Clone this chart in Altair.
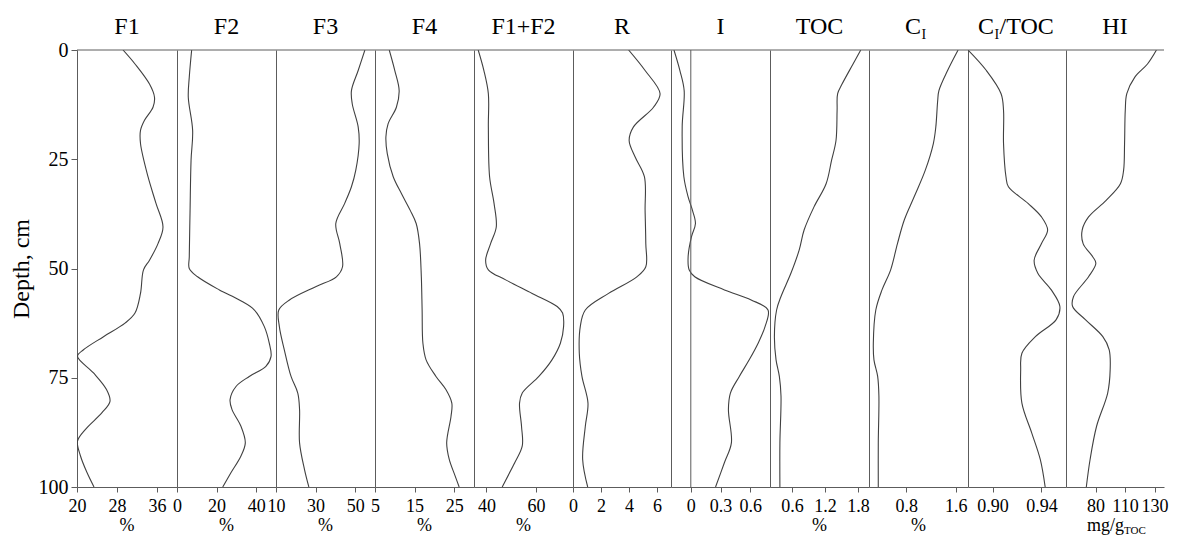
import altair as alt
import pandas as pd

# ---------------- data ----------------
names = ["F1", "F2", "F3", "F4", "F1+F2", "R", "I", "TOC", "C_I", "C_I/TOC", "HI"]

depth_F1 = [0, 3.2, 7.8, 10.8, 13.1, 16.1, 18.4, 21.4, 29.0, 35.1, 40.5, 44.3, 48.1, 50.3, 55.7,
            60.2, 62.5, 65.6, 68.6, 70.1, 73.9, 77.7, 80.4, 83.0, 86.8, 89.5, 92.9, 96.7, 100]
val_F1 = [29.2, 31.6, 34.5, 35.5, 35.2, 33.5, 32.7, 32.7, 34.2, 35.8, 37.2, 36.2, 34.5, 33.3, 32.7,
          31.6, 29.6, 25.3, 21.3, 20.1, 23.3, 25.9, 26.6, 25.0, 21.7, 20.1, 20.7, 22.0, 23.4]

depth_F2 = [0, 6.2, 10.8, 18.4, 25.2, 36.7, 47.3, 50.0, 51.9, 54.9, 57.2, 59.5, 63.3, 67.1, 70.1,
            72.4, 74.7, 77.0, 80.0, 82.3, 86.1, 89.9, 92.9, 96.7, 100]
val_F2 = [7.4, 6.2, 5.7, 7.9, 7.1, 6.6, 6.2, 6.2, 10.4, 21.4, 31.5, 39.1, 44.1, 46.6, 47.5,
          44.9, 36.5, 29.8, 26.8, 27.8, 32.3, 34.5, 32.3, 27.3, 23.1]

depth_F3 = [0, 4.7, 9.3, 12.3, 17.6, 21.4, 27.5, 31.3, 35.1, 39.7, 44.3, 49.6, 51.9, 54.1, 57.2,
            59.5, 63.3, 68.6, 74.7, 78.5, 82.3, 89.9, 96.0, 100]
val_F3 = [54.9, 51.5, 48.1, 48.5, 51.5, 52.0, 50.3, 48.1, 44.7, 40.2, 42.2, 43.6, 40.5, 30.3, 16.8,
          11.4, 11.7, 14.2, 17.6, 21.0, 21.9, 21.9, 24.4, 26.6]

depth_F4 = [0, 4.7, 9.3, 13.1, 16.9, 19.9, 23.7, 29.0, 32.9, 36.7, 39.7, 44.3, 51.9, 59.5, 67.1,
            70.9, 74.7, 77.7, 80.8, 83.8, 89.9, 93.7, 97.5, 100]
val_F4 = [8.6, 10.0, 11.1, 10.4, 8.3, 7.75, 8.1, 9.6, 11.7, 13.9, 15.4, 16.25, 16.7, 16.9, 17.1,
          17.9, 20.4, 22.9, 24.4, 24.2, 23.1, 23.75, 25.25, 26.25]

depth_F12 = [0, 4.7, 10.0, 17.6, 29.0, 35.1, 40.5, 44.3, 48.1, 50.3, 52.6, 55.7, 58.7, 60.2, 63.3,
             67.1, 70.9, 74.7, 78.5, 80.8, 86.1, 90.6, 94.4, 100]
val_F12 = [36.7, 39.0, 40.8, 40.8, 41.3, 43.1, 44.0, 41.7, 39.7, 40.8, 47.8, 58.5, 68.6, 70.8, 71.2,
           69.9, 66.5, 61.2, 54.5, 53.4, 54.2, 54.5, 51.5, 46.4]

depth_R = [0, 4.7, 10.0, 13.1, 17.6, 20.7, 24.5, 29.0, 36.7, 44.3, 49.6, 51.9, 55.7, 59.5, 63.3,
           69.4, 74.7, 80.8, 86.1, 93.7, 100]
val_R = [3.97, 5.15, 6.22, 5.75, 4.32, 4.01, 4.44, 5.1, 5.15, 5.2, 5.2, 4.56, 2.54, 0.88, 0.52,
         0.45, 0.64, 1.07, 0.88, 0.69, 1.05]

depth_I = [0, 4.7, 9.3, 17.6, 29.0, 33.6, 36.7, 39.7, 42.7, 47.3, 50.3, 51.9, 54.9, 57.2, 59.5,
           63.3, 67.1, 70.9, 74.7, 78.5, 82.3, 89.9, 94.4, 100]
val_I = [-0.17, -0.11, -0.067, -0.087, -0.07, -0.027, 0.017, 0.047, 0.007, -0.027, -0.017, 0.04,
         0.34, 0.61, 0.78, 0.75, 0.68, 0.59, 0.49, 0.40, 0.38, 0.41, 0.34, 0.25]

depth_TOC = [0, 3.2, 7.8, 10.0, 13.8, 20.7, 25.2, 30.6, 35.9, 41.2, 45.8, 51.1, 56.4, 59.5, 65.6,
             70.9, 74.7, 79.2, 89.9, 100]
val_TOC = [1.85, 1.71, 1.51, 1.43, 1.42, 1.40, 1.32, 1.22, 1.00, 0.82, 0.73, 0.58, 0.40, 0.32, 0.28,
           0.31, 0.37, 0.40, 0.38, 0.38]

depth_CI = [0, 4.7, 9.3, 11.6, 17.6, 21.4, 27.5, 33.6, 38.9, 44.3, 50.3, 54.9, 59.5, 67.1, 70.9,
            74.7, 79.2, 89.9, 100]
val_CI = [1.64, 1.47, 1.33, 1.31, 1.28, 1.24, 1.11, 0.93, 0.77, 0.66, 0.55, 0.41, 0.31, 0.27, 0.28,
          0.34, 0.36, 0.35, 0.35]

depth_CIT = [0, 4.7, 10.0, 13.8, 21.4, 29.0, 31.3, 35.1, 38.2, 41.2, 44.3, 48.1, 51.1, 54.9, 58.7,
             61.7, 65.6, 69.4, 73.2, 80.8, 87.6, 93.7, 100]
val_CIT = [0.880, 0.895, 0.907, 0.909, 0.909, 0.911, 0.913, 0.929, 0.940, 0.945, 0.940, 0.934, 0.937,
           0.948, 0.955, 0.952, 0.935, 0.924, 0.923, 0.924, 0.932, 0.939, 0.943]

depth_HI = [0, 3.2, 6.2, 10.0, 13.8, 21.4, 27.5, 30.6, 34.4, 38.2, 41.2, 44.3, 47.3, 48.8, 51.9,
            56.4, 58.7, 61.7, 65.6, 68.6, 73.2, 78.5, 86.1, 93.7, 100]
val_HI = [131.6, 124.0, 113.3, 106.5, 105.2, 104.6, 103.8, 101.1, 89.0, 74.1, 68.7, 69.5, 77.6, 80.3,
          74.1, 61.4, 60.6, 71.4, 86.2, 91.6, 92.4, 90.3, 80.9, 75.4, 72.2]

domains = [[20, 40], [0, 50], [10, 60], [5, 30], [35, 75], [0, 7], [-0.2, 0.8],
           [0.2, 2.0], [0.2, 1.8], [0.88, 0.96], [55, 138]]
tick_values = [[20, 28, 36], [0, 20, 40], [10, 30, 50], [5, 15, 25], [40, 60], [0, 2, 4, 6],
               [0, 0.3, 0.6], [0.6, 1.2, 1.8], [0.8, 1.6], [0.90, 0.94], [80, 105, 130]]
# tick labels exactly as printed in the reference (its HI axis prints 110 at the middle tick)
tick_labels = [["20", "28", "36"], ["0", "20", "40"], ["10", "30", "50"], ["5", "15", "25"],
               ["40", "60"], ["0", "2", "4", "6"], ["0", "0.3", "0.6"], ["0.6", "1.2", "1.8"],
               ["0.8", "1.6"], ["0.90", "0.94"], ["80", "110", "130"]]
units = ["%", "%", "%", "%", "%", "", "", "%", "%", "", "mg/g"]
depth_ticks = [0, 25, 50, 75, 100]

series = [(depth_F1, val_F1), (depth_F2, val_F2), (depth_F3, val_F3), (depth_F4, val_F4),
          (depth_F12, val_F12), (depth_R, val_R), (depth_I, val_I), (depth_TOC, val_TOC),
          (depth_CI, val_CI), (depth_CIT, val_CIT), (depth_HI, val_HI)]

# ---------------- style ----------------
FONT = "Liberation Serif"
LINE = "#404040"
FRAME = "#5c5c5c"
H = 437
TOP = 41
LEFT = 68
widths = [100, 99, 99, 99, 99, 98, 99, 99, 99, 98, 98]
one = pd.DataFrame({"k": [0]})


def txt(text, x, y, size, align="center"):
    return alt.Chart(one).mark_text(text=text, font=FONT, fontSize=size, align=align,
                                    baseline="alphabetic", color="black").encode(
        x=alt.value(x), y=alt.value(y))


def title_parts(name, w):
    if name == "C_I":
        return [txt("C", 36, -16, 24, "left"), txt("I", 52.5, -11, 14, "left")]
    if name == "C_I/TOC":
        return [txt("C", 10, -16, 24, "left"), txt("I", 26.5, -11, 14, "left"),
                txt("/TOC", 31.5, -16, 24, "left")]
    return [txt(name, w / 2, -16, 24)]


def label_expr(values, labels):
    expr = "''"
    for v, lab in zip(values, labels):
        expr = f"abs(datum.value - {v}) < 1e-9 ? '{lab}' : ({expr})"
    return expr


charts = []
for i, name in enumerate(names):
    w = widths[i]
    d, v = series[i]
    df = pd.DataFrame({"depth": d, "value": v})
    xaxis = alt.Axis(values=tick_values[i], title=None, grid=False, tickSize=5, tickColor=FRAME,
                     domainColor=FRAME, labelFont=FONT, labelFontSize=18, labelColor="black",
                     labelPadding=5, labelFlush=False, labelOverlap=False,
                     labelExpr=label_expr(tick_values[i], tick_labels[i]))
    if i == 0:
        yaxis = alt.Axis(values=depth_ticks, title="Depth, cm", titleFont=FONT, titleFontSize=24,
                         titleFontWeight="normal", titleColor="black", titlePadding=5,
                         labelFont=FONT, labelFontSize=20, labelColor="black", labelPadding=3,
                         labelFlush=False, tickSize=6, tickColor=FRAME, domainColor=FRAME,
                         grid=False)
    else:
        yaxis = alt.Axis(labels=False, ticks=False, title=None, domain=True, domainColor=FRAME,
                         grid=False)

    line = alt.Chart(df).mark_line(color=LINE, strokeWidth=1.1, interpolate="catmull-rom",
                                   clip=True).encode(
        x=alt.X("value:Q", scale=alt.Scale(domain=domains[i], nice=False, zero=False),
                axis=xaxis),
        y=alt.Y("depth:Q", scale=alt.Scale(domain=[0, 100], reverse=True, nice=False),
                axis=yaxis),
        order=alt.Order("depth:Q"),
    )
    top = alt.Chart(one).mark_rule(color=FRAME, strokeWidth=1).encode(y=alt.value(0))
    layers = [line, top]
    if name == "I":
        layers.append(alt.Chart(one).mark_rule(color=FRAME, strokeWidth=1).encode(x=alt.datum(0)))
    layers += title_parts(name, w)
    if units[i] == "%":
        layers.append(txt("%", w / 2, H + 44, 18))
    elif units[i]:
        layers.append(txt("mg/g", 21, H + 44, 18, "left"))
        layers.append(txt("TOC", 58, H + 47, 11, "left"))
    if i == 0:
        layers.append(alt.Chart(one).mark_rule(color="white", strokeWidth=1).encode(
            x=alt.value(-LEFT), x2=alt.value(-LEFT + 1), y=alt.value(-TOP), y2=alt.value(-TOP)))
    charts.append(alt.layer(*layers).properties(width=w, height=H))

chart = alt.hconcat(*charts, spacing=0, bounds="flush").properties(
    padding=0, background="white").configure_view(strokeWidth=0)

chart.save("out.html", embed_options={"renderer": "svg", "actions": False})
